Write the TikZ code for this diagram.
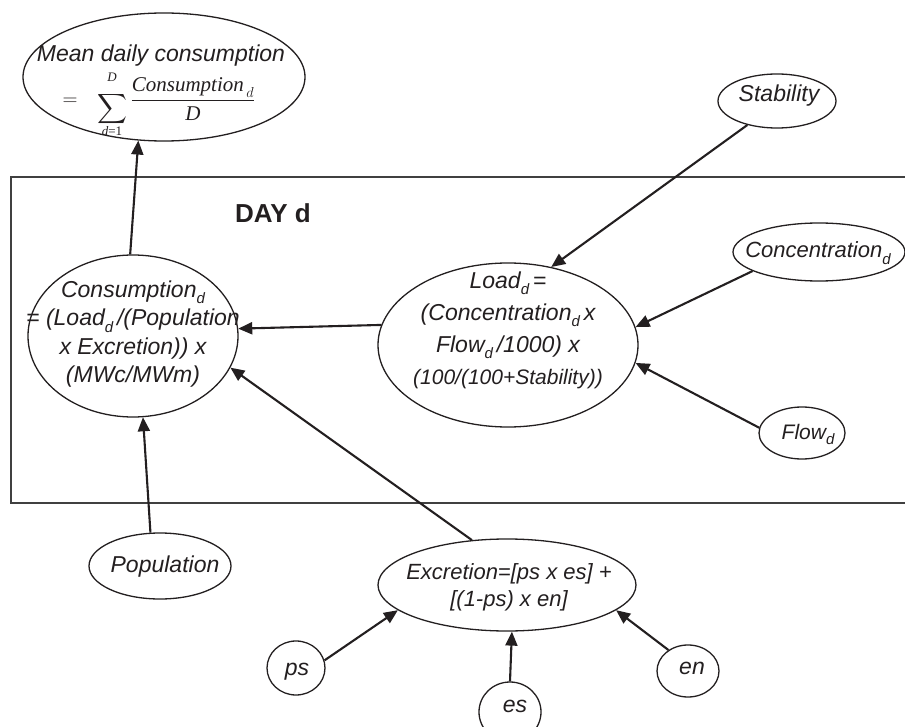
\documentclass[tikz,border=0pt]{standalone}
\usepackage{exscale}
\usepackage{fontspec}
\setmainfont{Liberation Sans}
\newfontfamily\tms{Liberation Serif}
\usetikzlibrary{arrows.meta,shapes.geometric}
\definecolor{ink}{HTML}{231F20}
\definecolor{frame}{HTML}{404040}
\newcommand\lowd{\raisebox{-0.28em}{\fontsize{15}{15}\selectfont d}}
\begin{document}
\begin{tikzpicture}[x=1pt,y=-1pt,
  oval/.style={draw=ink, line width=1.3pt, ellipse, inner sep=0pt},
  txt/.style={text=ink, font=\fontsize{23}{28.5}\selectfont\itshape, align=center, inner sep=0pt},
  mth/.style={text=ink, font=\fontsize{21}{24}\selectfont, inner sep=0pt, anchor=base},
  lim/.style={text=ink, font=\fontsize{13}{14}\selectfont\tms, inner sep=0pt},
  conn/.style={draw=ink, line width=2.1pt, -{Triangle[length=14pt,width=12pt]}},
  ]
\clip (0,0) rectangle (905,727);
\fill[white] (0,0) rectangle (905,727);

% frame for DAY d
\draw[frame, line width=1.9pt] (11,177) rectangle (930,503);
\node[text=ink, font=\fontsize{26}{30}\selectfont\bfseries, anchor=base west, inner sep=0pt] (day) at (235,223) {DAY d};

% nodes
\node[oval, minimum width=282pt, minimum height=128pt] (mean) at (164,77) {};
\node[oval, minimum width=210pt, minimum height=162pt] (cons) at (133,336) {};
\node[oval, minimum width=260pt, minimum height=164pt] (load) at (508,345) {};
\node[oval, minimum width=118pt, minimum height=54pt] (stab) at (777,101) {};
\node[oval, minimum width=172pt, minimum height=58pt] (conc) at (819,252) {};
\node[oval, minimum width=86pt, minimum height=52pt] (flow) at (802,433) {};
\node[oval, minimum width=142pt, minimum height=66pt] (pop) at (160,566) {};
\node[oval, minimum width=258pt, minimum height=92pt] (excr) at (507,585) {};
\node[oval, minimum width=58pt, minimum height=54pt] (ps) at (296,668) {};
\node[oval, minimum width=62pt, minimum height=60pt] (es) at (510,712) {};
\node[oval, minimum width=62pt, minimum height=52pt] (en) at (688,671) {};

% texts
\node[txt, anchor=base] (meanA) at (161,62) {Mean daily consumption};
\node[mth] (meanEq) at (70,106) {$=$};
\node[mth, font=\fontsize{20}{22}\selectfont] (meanSum) at (112,114) {$\displaystyle\sum$};
\node[lim] (meanSumU) at (112,77) {\itshape D};
\node[lim] (meanSumL) at (112,131) {\itshape d\upshape =1};
\node[mth] (meanFrac) at (193,106)
  {$\displaystyle\frac{\mbox{\tms\itshape Consumption}_{\,d}}{\mbox{\tms\itshape D}}$};
\node[txt] (consT) at (133,334) {Consumption\lowd\\= (Load\lowd\,/(Population\\x Excretion)) x\\(MWc/MWm)};
\node[txt, font=\fontsize{23}{32}\selectfont\itshape] (loadT) at (508,330) {Load\lowd\,=\\(Concentration\lowd\,x\\Flow\lowd\,/1000) x\\{\fontsize{21}{32}\selectfont(100/(100+Stability))}};
\node[txt, anchor=base] (stabT) at (779,102) {Stability};
\node[txt, anchor=base, font=\fontsize{22}{26}\selectfont\itshape] (concT) at (818,258) {Concentration\lowd};
\node[txt, anchor=base, font=\fontsize{21}{25}\selectfont\itshape] (flowT) at (808,439) {Flow\lowd};
\node[txt, anchor=base] (popT) at (165,572) {Population};
\node[txt, font=\fontsize{22}{27}\selectfont\itshape] (excrT) at (509,587) {Excretion=[ps x es] +\\{}[(1-ps) x en]};
\node[txt, anchor=base] (psT) at (297,675) {ps};
\node[txt, anchor=base] (esT) at (515,712) {es};
\node[txt, anchor=base] (enT) at (692,674) {en};

% connectors
\draw[conn] (cons.92) -- (mean.248.5);
\draw[conn] (stab.219) -- (load.61.8);
\draw[conn] (conc.196.3) -- (load.8.7);
\draw[conn] (flow.173.5) -- (load.-8.3);
\draw[conn] (load.171.7) -- (cons.4.9);
\draw[conn] (excr.128.5) -- (cons.-18.8);
\draw[conn] (pop.106.9) -- (cons.-83.7);
\draw[conn] (ps.15.4) -- (excr.193.9);
\draw[conn] (es.90) -- (excr.276);
\draw[conn] (en.133.6) -- (excr.-13);
\end{tikzpicture}
\end{document}
